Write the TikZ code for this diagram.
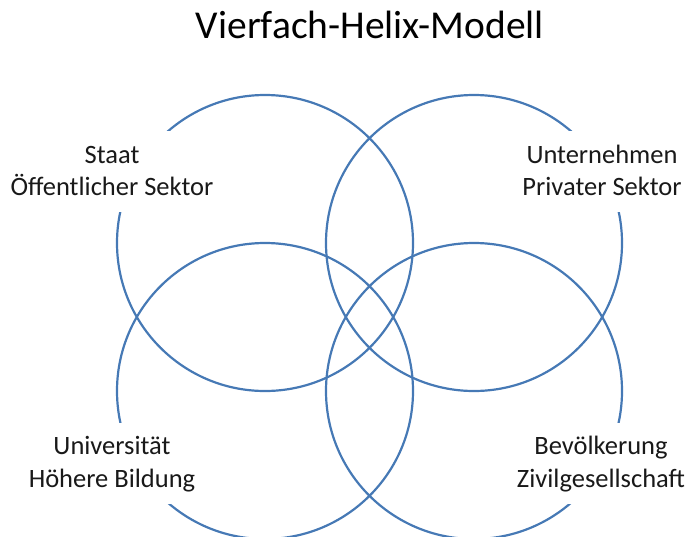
\documentclass[tikz,border=0pt]{standalone}
\usepackage{fontspec}
\setmainfont{Carlito}
\definecolor{helixblue}{RGB}{70,121,181}
\tikzset{
  helix/.style={draw=helixblue, line width=2.2pt},
  labelbox/.style={fill=white, inner sep=0pt, minimum height=81pt},
  sector/.style={anchor=base, font=\fontsize{26.5}{30}\selectfont, text=black!90}
}
\begin{document}
\begin{tikzpicture}[x=1pt,y=-1pt]
  \useasboundingbox (0,0) rectangle (687,536);
  \clip (0,0) rectangle (687,536);
  \foreach \cx/\cy in {265/243, 474/243, 265/391, 474/391}
  {
  \draw[helix] (\cx, \cy) circle (148);
  }
  \node[anchor=base, font=\fontsize{39.5}{44}\selectfont] (title) at (370, 38) {Vierfach-Helix-Modell};
  % white boxes behind the labels
  \node[labelbox, minimum width=218pt] (staatbox) at (112, 171.5) {};
  \node[labelbox, minimum width=172pt] (firmabox) at (602, 171.5) {};
  \node[labelbox, minimum width=178pt] (unibox) at (112, 463.5) {};
  \node[labelbox, minimum width=180pt] (volkbox) at (601, 463.5) {};
  \node[sector] (staat) at (112, 163) {Staat};
    \node[sector] (staatsektor) at (112, 195) {Öffentlicher Sektor};
  \node[sector] (firma) at (602, 163) {Unternehmen};
    \node[sector] (firmasektor) at (602, 195) {Privater Sektor};
  \node[sector] (uni) at (112, 454) {Universität};
    \node[sector] (unibildung) at (112, 487) {Höhere Bildung};
  \node[sector] (volk) at (601, 454) {Bevölkerung};
    \node[sector] (volkgesellschaft) at (601, 487) {Zivilgesellschaft};
\end{tikzpicture}
\end{document}
